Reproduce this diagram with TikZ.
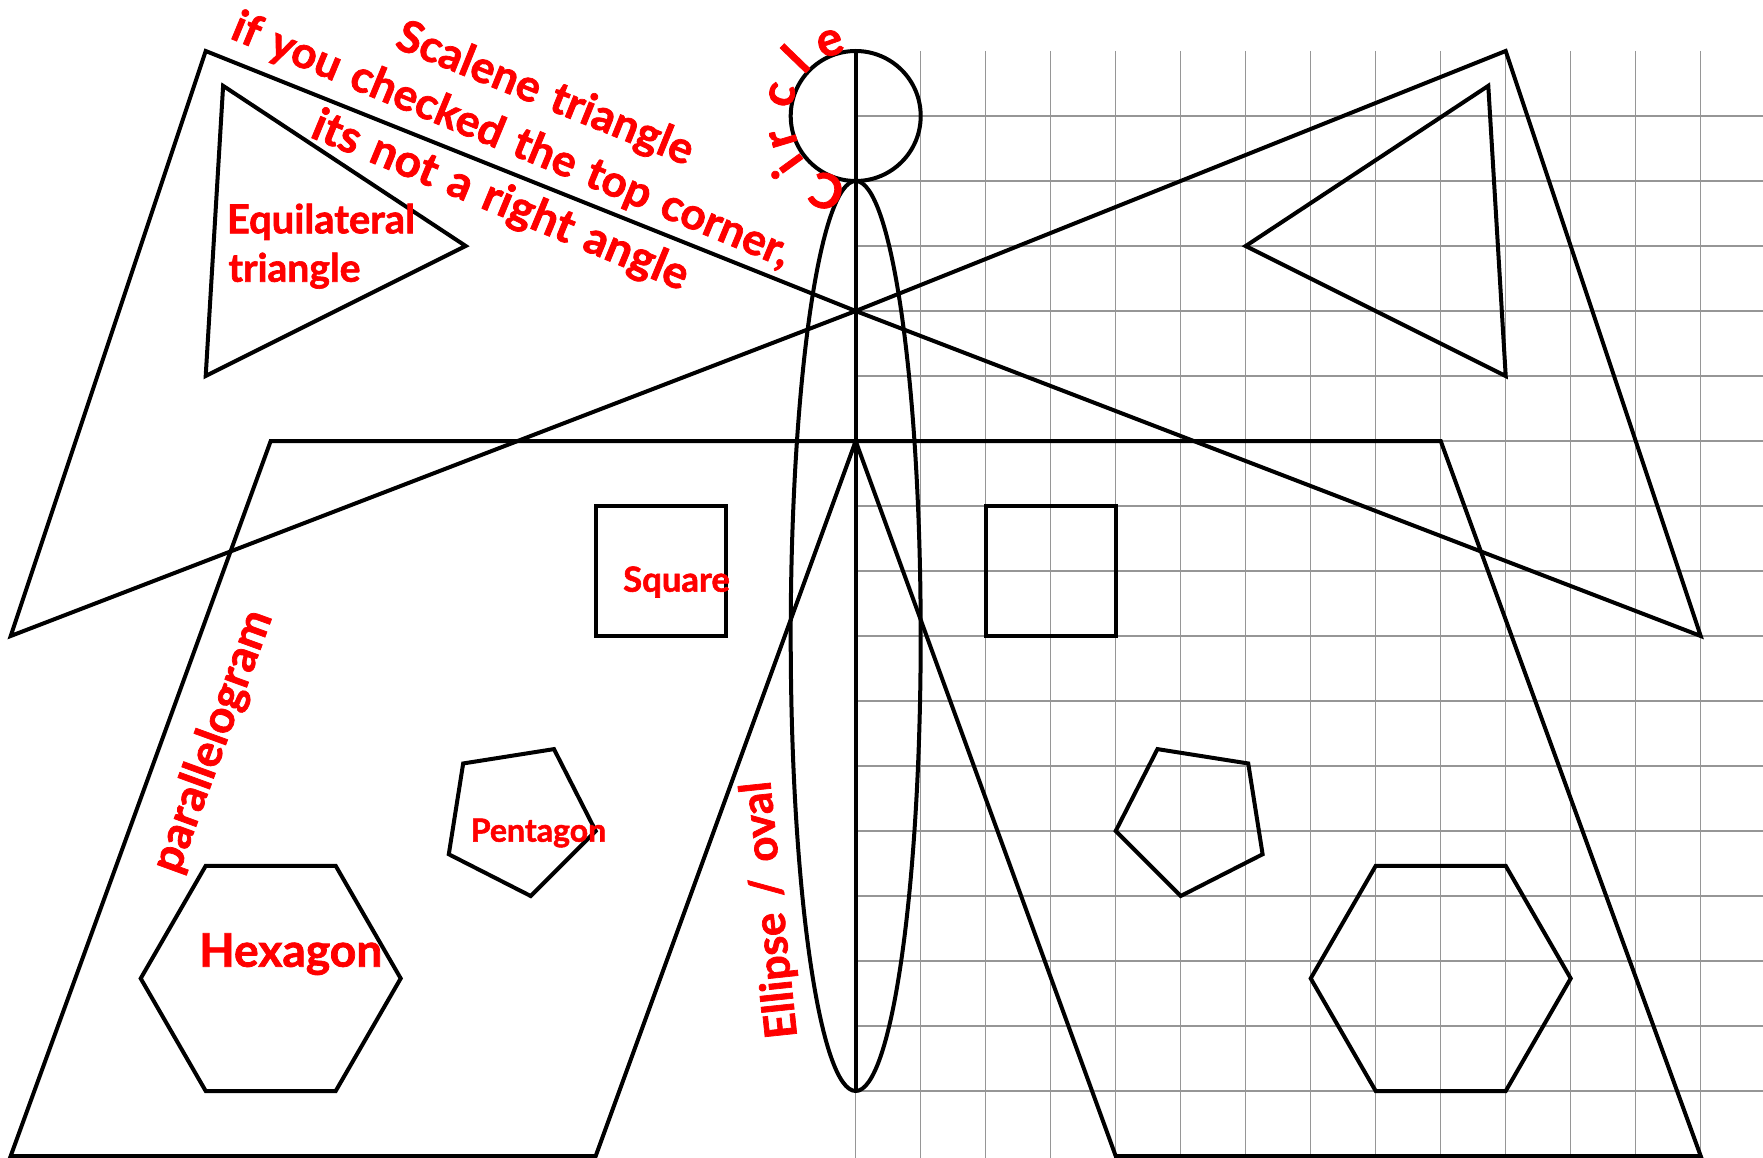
\documentclass[tikz,border=0pt]{standalone}
\usepackage{fontspec}
\setmainfont{Lato}[BoldFeatures={FakeBold=1.6}]
\usepackage{graphicx}
\definecolor{gridgray}{RGB}{150,150,150}
\begin{document}
\begin{tikzpicture}[x=1pt,y=-1pt,
  shp/.style={draw=black,line width=4pt},
  gridln/.style={draw=gridgray,line width=1.3pt},
  lbl/.style={text=red,inner sep=0pt,font={\bfseries\fontsize{40}{48}\selectfont\spaceskip=0.32em\relax}},
  circl/.style={text=red,inner sep=0pt,font={\bfseries\fontsize{48}{48}\selectfont}}]
\useasboundingbox (0,0) rectangle (1763,1158);
% grid
\foreach \k in {0,...,13} \draw[gridln] (855.7+65*\k,51) -- (855.7+65*\k,1158);
\foreach \k in {1,...,16} \draw[gridln] (855.7,51+65*\k) -- (1763,51+65*\k);
% shapes in grid units
\begin{scope}[shift={(855.7,51)},x=65pt,y=-65pt]
  % scalene triangles
  \draw[shp] (-10,0) -- (0,4) -- (-13,9) -- cycle;
  \draw[shp] (10,0) -- (0,4) -- (13,9) -- cycle;
  % equilateral triangles
  \draw[shp] (-9.732,0.536) -- (-6,3) -- (-10,5) -- cycle;
  \draw[shp] (9.732,0.536) -- (6,3) -- (10,5) -- cycle;
  % circle, ellipse, axis
  \draw[shp] (0,1) circle [radius=1];
  \draw[shp] (0,9) ellipse [x radius=1, y radius=7];
  \draw[shp] (0,0) -- (0,16);
  % parallelograms
  \draw[shp] (-9,6) -- (0,6) -- (-4,17) -- (-13,17) -- cycle;
  \draw[shp] (0,6) -- (9,6) -- (13,17) -- (4,17) -- cycle;
  % squares
  \draw[shp] (-4,7) rectangle (-2,9);
  \draw[shp] (2,7) rectangle (4,9);
  % pentagons
  \draw[shp] (4,12) -- (5,13) -- (6.260,12.358) -- (6.039,10.961) -- (4.642,10.740) -- cycle;
  \draw[shp] (-4,12) -- (-5,13) -- (-6.260,12.358) -- (-6.039,10.961) -- (-4.642,10.740) -- cycle;
  % hexagons
  \draw[shp] (8,12.536) -- (10,12.536) -- (11,14.268) -- (10,16) -- (8,16) -- (7,14.268) -- cycle;
  \draw[shp] (-8,12.536) -- (-10,12.536) -- (-11,14.268) -- (-10,16) -- (-8,16) -- (-7,14.268) -- cycle;
\end{scope}
% labels
\node[lbl,rotate=-22] (scalene) at (544.7,95) {\resizebox{316pt}{!}{Scalene triangle}};
\node[lbl,rotate=-22.5] (checked) at (511,141) {\resizebox{600pt}{!}{if you checked the top corner,}};
\node[lbl,rotate=-22.5] (notright) at (500,202) {\resizebox{403pt}{!}{its not a right angle}};
\node[lbl,anchor=base west] (equi1) at (226.7,233.3) {\resizebox{188pt}{!}{Equilateral}};
\node[lbl,anchor=base west] (equi2) at (228.3,281.7) {\resizebox{132pt}{!}{triangle}};
\node[lbl,anchor=base west] (square) at (623,591.7) {\resizebox{106.6pt}{!}{Square}};
\node[lbl,anchor=base west] (penta) at (470.6,841.7) {\resizebox{135.4pt}{!}{Pentagon}};
\node[lbl,anchor=base west] (hexa) at (199,966.7) {\resizebox{183pt}{!}{Hexagon}};
\node[lbl,rotate=70] (para) at (213.3,741.7) {\resizebox{275pt}{!}{parallelogram}};
\node[lbl,rotate=96] (ellip) at (771,910) {\resizebox{258pt}{!}{Ellipse\hspace{0.35em}/\hspace{0.35em}oval}};
% circle letters
\node[circl,rotate=159] (cC) at (826.7,191.7) {C};
\node[circl,rotate=126] (ci) at (786.7,166.7) {i};
\node[circl,rotate=106.6] (cr) at (783.3,138.3) {r};
\node[circl,rotate=73.7] (cc) at (781.7,95) {c};
\node[circl,rotate=46] (cl) at (795,58.3) {l};
\node[circl,rotate=19.3] (ce) at (830,43.3) {e};
\end{tikzpicture}
\end{document}
